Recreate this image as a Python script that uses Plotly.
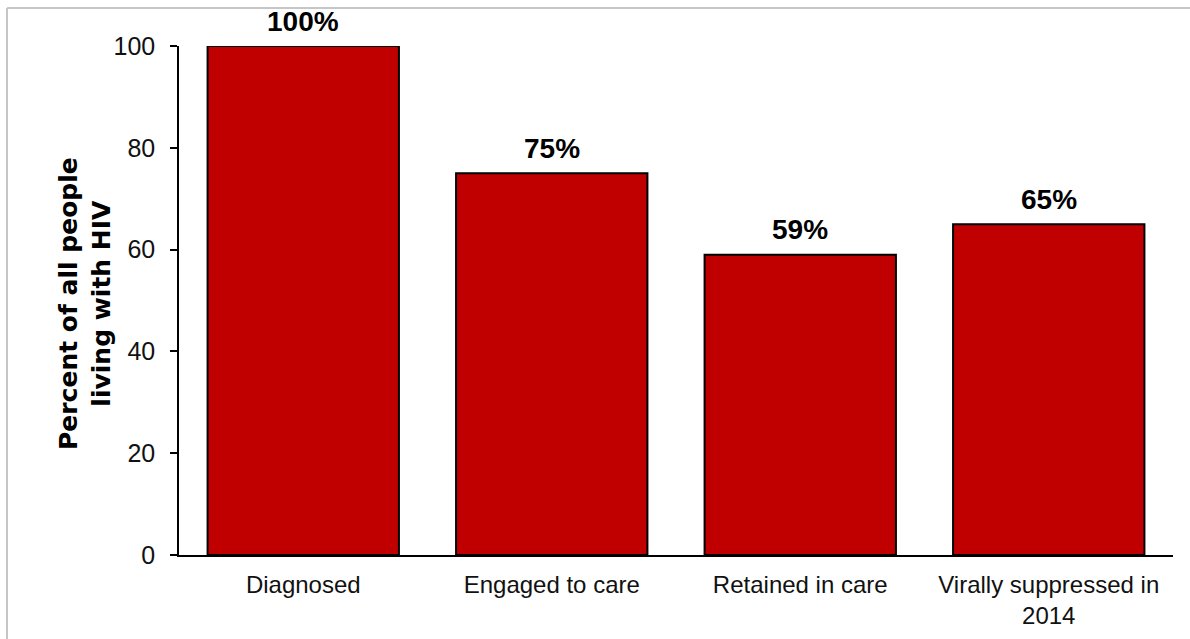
import plotly.graph_objects as go

# Care continuum values (percent of all people living with HIV)
categories = ["Diagnosed", "Engaged to care", "Retained in care", "Virally suppressed in<br>2014"]
percent = [100, 75, 59, 65]
y_ticks = [0, 20, 40, 60, 80, 100]

WIDTH, HEIGHT = 1190, 639
M_L, M_R, M_T, M_B = 179, 17, 46, 84
PLOT_W = WIDTH - M_L - M_R
PLOT_H = HEIGHT - M_T - M_B


def paper_x(px):
    return (px - M_L) / PLOT_W


def paper_y(py):
    return (HEIGHT - M_B - py) / PLOT_H


SANS = "Liberation Sans, Arial, sans-serif"

fig = go.Figure(
    go.Bar(
        x=categories,
        y=percent,
        marker=dict(color="#C00000", line=dict(color="#000000", width=2)),
        hoverinfo="skip",
    )
)

# value labels above each bar
for cat, val in zip(categories, percent):
    fig.add_annotation(
        x=cat, y=val, xref="x", yref="y",
        text=f"<b>{val}%</b>",
        showarrow=False, yanchor="middle", yshift=25,
        font=dict(family=SANS, size=28, color="#000000"),
    )

# rotated axis title
fig.add_annotation(
    x=paper_x(85), y=paper_y(304), xref="paper", yref="paper",
    text="<b>Percent of all people<br>living with HIV</b>",
    textangle=-90, showarrow=False, xanchor="center", yanchor="middle",
    font=dict(family="DejaVu Sans", size=25, color="#000000"),
)

# light frame along the top and left edges
frame = dict(color="#c6c6c6", width=2)
fig.add_shape(type="line", xref="paper", yref="paper",
              x0=paper_x(7), x1=paper_x(WIDTH + 5), y0=paper_y(8), y1=paper_y(8), line=frame)
fig.add_shape(type="line", xref="paper", yref="paper",
              x0=paper_x(7), x1=paper_x(7), y0=paper_y(8), y1=paper_y(HEIGHT + 5), line=frame)

fig.update_layout(
    width=WIDTH, height=HEIGHT, autosize=False,
    margin=dict(l=M_L, r=M_R, t=M_T, b=M_B, pad=0),
    paper_bgcolor="white", plot_bgcolor="white",
    bargap=0.23, showlegend=False,
    font=dict(family=SANS, color="#111111"),
)
fig.update_xaxes(
    showline=True, linecolor="#000000", linewidth=1.5, automargin=False,
    ticks="", showgrid=False, zeroline=False, ticklabelstandoff=7,
    tickfont=dict(family=SANS, size=24, color="#111111"),
)
fig.update_yaxes(
    range=[0, 100], tickvals=y_ticks, automargin=False,
    showline=True, linecolor="#000000", linewidth=1.5,
    ticks="outside", ticklen=7, tickwidth=1.5, tickcolor="#000000",
    showgrid=False, zeroline=False, ticklabelstandoff=10,
    tickfont=dict(family=SANS, size=25, color="#111111"),
)

fig.write_html("out.html")
